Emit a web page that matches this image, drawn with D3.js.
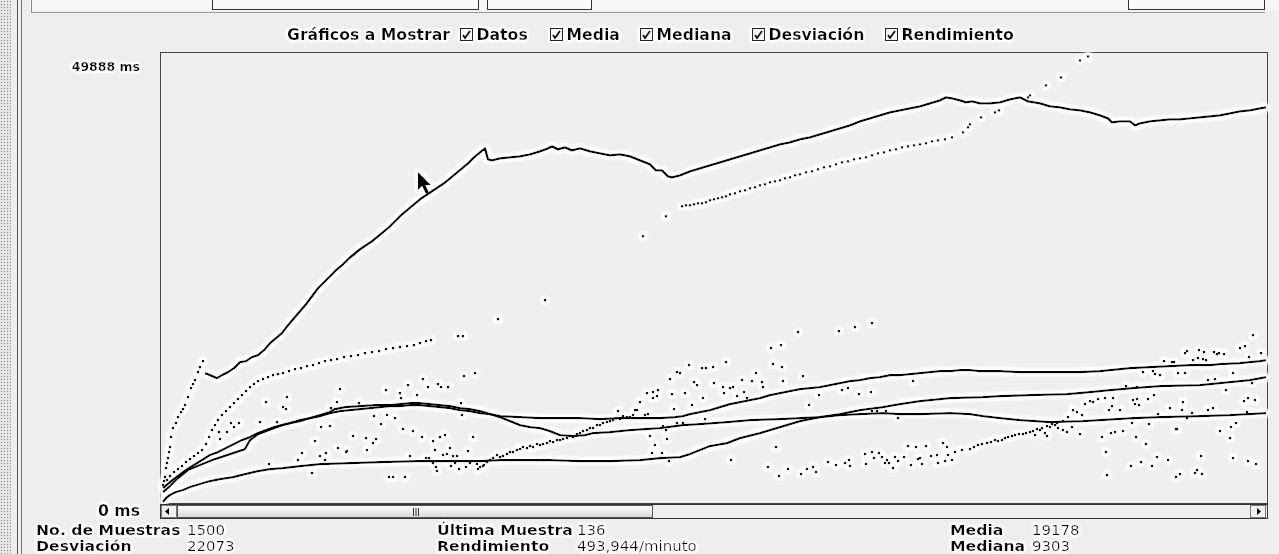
<!DOCTYPE html>
<html><head><meta charset="utf-8">
<script src="https://cdn.jsdelivr.net/npm/d3@7"></script>
<style>
html,body{margin:0;padding:0;background:#eeeeee;}
svg{display:block;font-family:"DejaVu Sans",sans-serif;}
</style></head><body>
<svg id="chart" width="1279" height="554"></svg>
<script>
// ---- axis extremes ----
const yMax = 49888;               // ms, top of the graph
const sampleWindow = 1106;        // samples visible in the viewport
const yTickLabels = ["49888 ms", "0 ms"];

// ---- legend / check boxes ----
const showTitle = "Gráficos a Mostrar";
const seriesNames = ["Datos", "Media", "Mediana", "Desviación", "Rendimiento"];

// ---- summary fields ----
const summaryLeft  = [["No. de Muestras", "1500"], ["Desviación", "22073"]];
const summaryMid   = [["Última Muestra", "136"], ["Rendimiento", "493,944/minuto"]];
const summaryRight = [["Media", "19178"], ["Mediana", "9303"]];

// ---- series: [sample index, value in ms] ----
const rendimiento = [[44,14319],[49,14097],[56,13764],[61,14097],[67,14430],[73,14874],[79,15540],[85,15651],[91,16095],[97,16317],[103,16872],[109,17649],[115,18204],[121,18759],[127,19647],[133,20424],[139,21201],[145,21978],[151,22866],[157,23754],[163,24420],[169,25086],[175,25752],[181,26307],[187,26973],[193,27528],[199,28083],[205,28527],[211,28971],[217,29526],[223,30081],[229,30636],[235,31302],[241,31968],[247,32523],[253,33078],[259,33633],[265,34077],[271,34521],[277,34965],[283,35409],[289,35964],[295,36519],[301,37074],[307,37629],[313,38295],[319,38850],[324,39294],[327,38073],[331,37962],[339,38184],[349,38295],[359,38406],[369,38628],[379,38961],[387,39294],[391,39516],[397,39183],[404,39405],[411,39072],[419,39294],[429,38961],[439,38739],[449,38517],[459,38628],[469,38406],[479,37962],[489,37518],[495,36852],[501,36852],[507,36186],[511,36075],[519,36297],[529,36741],[539,37074],[549,37407],[559,37740],[569,38073],[579,38406],[589,38739],[599,39072],[609,39405],[619,39738],[629,39960],[639,40293],[649,40515],[659,40848],[669,41181],[679,41514],[689,41847],[699,42291],[709,42624],[719,42957],[729,43290],[739,43512],[749,43734],[759,43956],[769,44289],[779,44622],[785,44955],[791,44844],[799,44622],[805,44400],[811,44511],[819,44289],[829,44289],[839,44400],[849,44733],[859,44955],[867,44511],[879,44289],[889,43956],[899,43845],[909,43623],[919,43512],[929,43290],[939,42957],[947,42624],[951,42180],[959,42291],[969,42291],[974,41847],[979,42069],[989,42291],[999,42402],[1009,42513],[1019,42513],[1029,42624],[1039,42735],[1049,42846],[1059,42957],[1069,43179],[1079,43401],[1089,43512],[1099,43734],[1105,43845]];

const desviacion = [[2,1554],[9,2220],[17,2886],[25,3552],[33,4107],[41,4662],[49,5217],[57,5550],[65,5994],[73,6438],[81,6882],[89,7215],[97,7659],[105,7992],[113,8325],[121,8547],[129,8769],[139,9102],[149,9324],[159,9546],[169,9879],[179,10101],[189,10212],[199,10323],[209,10434],[219,10545],[229,10656],[239,10656],[249,10767],[259,10767],[269,10656],[279,10545],[289,10434],[299,10212],[309,10101],[319,9879],[329,9768],[339,9546],[359,9435],[379,9324],[399,9324],[419,9324],[439,9213],[459,9324],[479,9324],[499,9324],[514,9435],[522,9546],[529,9768],[539,9990],[549,10212],[559,10545],[569,10878],[579,11100],[589,11322],[599,11544],[609,11877],[619,12099],[629,12321],[639,12543],[649,12654],[659,12765],[669,12987],[679,13209],[689,13431],[699,13542],[709,13764],[719,13875],[729,14097],[739,14097],[749,14208],[759,14319],[769,14430],[779,14541],[789,14541],[799,14652],[809,14652],[819,14541],[839,14541],[859,14430],[879,14430],[899,14430],[919,14430],[939,14541],[949,14652],[959,14763],[969,14874],[989,14985],[1009,15096],[1029,15207],[1049,15207],[1059,15318],[1079,15429],[1089,15540],[1099,15651],[1105,15762]];

const media = [[2,1110],[9,1776],[17,2664],[27,3552],[39,4107],[54,4773],[69,5328],[84,5883],[89,6882],[97,7548],[105,7881],[113,8214],[121,8547],[129,8769],[139,8991],[149,9324],[159,9657],[169,9990],[174,10323],[184,10545],[199,10656],[214,10767],[229,10767],[239,10878],[249,10989],[259,10989],[269,10878],[279,10767],[289,10656],[299,10434],[309,10323],[319,10101],[329,9768],[339,9435],[349,8991],[359,8547],[369,8325],[379,8214],[389,7881],[399,7437],[412,7326],[424,7437],[432,7659],[449,7770],[469,7992],[499,8214],[522,8547],[539,8658],[566,8880],[589,9102],[619,9213],[639,9324],[659,9435],[679,9768],[699,10212],[722,10545],[739,10878],[759,11211],[789,11544],[822,11655],[839,11766],[869,11877],[906,11988],[929,12210],[949,12432],[972,12654],[999,12876],[1039,12987],[1069,13320],[1089,13542],[1105,13875]];

const mediana = [[2,0],[5,444],[9,777],[15,1110],[22,1332],[29,1665],[39,1998],[49,2331],[59,2553],[72,2775],[84,3108],[97,3441],[109,3663],[122,3774],[139,3996],[159,4218],[189,4329],[219,4440],[256,4551],[289,4551],[319,4551],[339,4662],[389,4662],[419,4551],[449,4551],[479,4662],[499,4884],[519,4995],[529,5328],[539,5772],[549,6216],[566,6549],[579,7104],[599,7659],[619,8325],[639,8991],[659,9435],[679,9657],[699,9768],[722,9879],[739,9768],[759,9768],[789,9879],[809,9768],[822,9546],[839,9324],[859,9102],[889,8880],[922,8991],[939,9102],[972,9324],[999,9435],[1039,9546],[1069,9657],[1105,9879]];

// individual samples (response times)
const datos = [
[2,1887],[3,2331],[4,2775],[5,3774],[6,4329],[7,4884],[8,5550],[9,6105],[10,7215],[12,8214],[15,8769],[17,9435],[20,9990],[22,10323],[24,10767],[27,11655],[30,12654],[32,13098],[34,13542],[37,14430],[39,14985],[42,15651],
[6,2442],[9,2886],[13,3330],[17,3663],[21,3996],[25,4440],[29,4773],[33,5106],[37,5439],[41,5772],[45,6438],[48,7215],[51,7992],[54,8547],[57,9102],[61,9657],[65,10101],[69,10545],[73,10989],[77,11433],[81,11877],[85,12321],[89,12765],[93,13098],[97,13431],[102,13653],[107,13875],[112,14097],[117,14208],[122,14319],[128,14541],[134,14763],[140,14874],[146,15096],[152,15207],[158,15429],[164,15651],[170,15762],[176,15873],[183,16095],[190,16206],[197,16317],[204,16539],[211,16650],[218,16761],[225,16983],[232,17094],[239,17205],[246,17316],[253,17427],[259,17649],[265,17871],[270,17982],[297,18426],[302,18426],[337,20313],[384,22422],[482,29526],[505,31746],
[521,32856],[525,32967],[529,32967],[533,33078],[537,33189],[541,33189],[545,33300],[549,33522],[553,33633],[557,33744],[561,33855],[565,33966],[569,34188],[574,34299],[579,34521],[584,34632],[589,34854],[594,34965],[599,35187],[604,35298],[609,35520],[614,35631],[619,35742],[624,35964],[629,36075],[634,36297],[639,36408],[645,36630],[651,36741],[657,36963],[663,37185],[669,37296],[675,37518],[681,37740],[687,37851],[693,38073],[699,38184],[705,38295],[711,38517],[717,38739],[723,38850],[729,39072],[735,39183],[741,39405],[747,39516],[753,39627],[759,39738],[765,39849],[771,40071],[777,40182],[784,40293],[791,40515],[802,41070],[807,41625],[809,41958],[820,42735],[834,43290],[838,43512],[867,44955],[869,45177],[885,46287],[900,47175],[919,49062],[927,49506],
[319,3885],[323,4107],[326,4440],[329,4662],[332,4884],[336,5217],[339,4995],[342,5106],[346,5328],[349,5550],[352,5550],[356,5772],[359,5883],[362,6105],[366,5994],[369,6216],[372,6105],[376,6438],[379,6327],[382,6438],[386,6549],[389,6771],[392,6660],[396,6882],[399,6882],[402,6993],[406,7104],[409,7326],[412,7215],[416,7548],[419,7659],[422,7881],[426,7992],[429,8214],[432,8214],[436,8547],[439,8547],[442,8769],[446,8880],[449,8991],[452,9102],[455,9324],[459,9213],[462,9546],[466,9435],[472,9657],[476,10212],[479,11100],[486,12099],[492,12210],[497,12432],
[457,10101],[469,9435],[474,10212],[484,9657],[487,9768],[492,11544],[496,11766],
[509,13653],[511,11988],[516,14430],[519,14319],[513,10323],[524,12099],[528,15207],[531,10767],[533,13320],[536,12987],[541,14874],[545,14874],[542,11544],[544,9213],[552,14985],[553,13209],[562,12765],[563,12099],[565,15540],[569,12654],[572,12765],[576,11766],[581,13542],[583,12210],[586,11544],[591,13431],[595,14319],[601,13320],[602,12765],[610,17094],[612,15318],[620,17427],[621,14985],[622,13431],[637,18870],[642,13986],[648,10767],[658,11877],[678,18981],[694,19425],[711,19869],[681,12432],[687,12654],[698,11988],[710,12210],[752,13431],[711,10101],[716,10101],[725,10101],[737,9324],[516,8769],[522,8769],
[489,7326],[494,6327],[491,5439],[501,5439],[499,4884],[505,7992],[506,6993],[508,4551],[502,8436],[570,4662],[607,3885],[615,6105],[618,2886],[627,3663],[640,3108],[646,3663],[652,3885],[655,3330],[667,4440],[675,4107],[684,4329],[688,4662],[689,3996],[704,5328],[705,4218],[711,5550],[713,4884],[718,5439],[721,4995],[724,4329],[726,4662],[728,4329],[732,3774],[734,4995],[737,4551],[743,4995],[750,4107],[747,6216],[755,6105],[757,4773],[765,6216],[770,5106],[776,5217],[777,4329],[782,6549],[786,6105],[787,5217],[759,4884],[761,4218],[784,4551],
[791,4662],[794,5550],[801,5772],[809,5883],[813,6105],[817,6327],[821,6438],[826,6549],[830,6660],[834,6882],[837,6771],[841,6882],[844,7104],[847,7215],[851,7326],[854,7437],[858,7548],[862,7548],[865,7659],[869,7770],[872,7881],[876,8103],[879,7992],[881,8214],[886,8436],[889,8325],[891,8658],[894,8547],[896,8769],[902,8991],[907,9435],[912,10212],[916,9990],[921,9657],[897,8214],[902,7992],[906,7770],[911,8325],[919,7548],[874,7437],[884,7659],[886,7326],
[924,10878],[929,11211],[932,11100],[937,11433],[944,11544],[952,11544],[948,10212],[951,10656],[959,10212],[972,11322],[976,11433],[974,10878],[978,10767],[987,11433],[993,11877],[997,9768],[1009,10434],[1022,11100],[1021,10212],[1031,9879],[1047,10212],[1052,10434],[1083,11211],[1087,11544],[1094,11322],[1086,9990],[1075,8769],[1070,8325],[1059,7881],[1069,7104],[972,9324],[971,8769],[988,8658],[1026,9324],[1015,8103],[941,7215],[950,7659],[954,7770],[962,7881],
[945,5550],[946,2997],[970,3996],[975,7215],[980,4440],[985,6438],[991,3996],[996,4995],[1007,4662],[1016,8103],[1015,2775],[1019,3108],[1034,3219],[1036,3552],[1041,3108],[1040,5106],[1072,4884],[1087,4551],[1095,4218],
[1092,18537],[1079,17094],[1084,17316],[1024,16539],[1026,16761],[1038,16872],[1043,16650],[1032,15762],[1037,15984],[1042,15873],[1045,15762],[1053,16650],[1056,16428],[1058,16539],[1063,16428],[1088,16095],[1100,16539],[1003,15651],[1011,15540],[1013,15540],[982,14430],[992,14541],[994,14208],[999,14097],[1017,14319],[1024,14319],[1072,14319],[1047,13542],[1054,13653],[1065,12432],[1091,13209],[965,12876],[976,12765],
[58,7770],[59,6993],[66,7770],[70,8769],[73,8325],[78,8769],[99,8880],[105,11100],[116,8880],[122,10545],[125,10323],[126,11655],[141,5439],[137,4662],[154,6771],[160,8325],[169,8436],[165,5439],[159,5106],[164,4662],[177,5994],[186,5661],[192,7326],[151,3219],[108,4218],[170,10434],[176,11100],[179,12543],[198,10989],[225,12432],[239,12099],[240,11544],[247,12987],[256,11877],[262,13653],[267,12765],[277,13098],[280,12765],[287,12765],[303,13986],[314,14319],[300,10989],[241,10767],
[213,9546],[226,9657],[234,9324],[220,8658],[242,8103],[252,7881],[261,7215],[272,6771],[279,7215],[284,7437],[205,7104],[215,6993],[212,6549],[206,5772],[185,5550],[249,5106],[265,4884],[268,4884],[274,5772],[289,5994],[282,5217],[286,5328],[292,5106],[296,5106],[307,5661],[312,7215],[301,9657],[272,4329],[275,3885],[276,3441],[290,3996],[294,4329],[298,3663],[305,3885],[309,4329],[316,4218],[317,3663],[322,3996],[228,2775],[232,2775],[244,2775],[383,4662]
];

const svg = d3.select("#chart");
const W = 1279, H = 554;
const plot = {left: 161, top: 53, right: 1267, bottom: 502};

const x = d3.scaleLinear().domain([0, sampleWindow]).range([plot.left, plot.right]);
const y = d3.scaleLinear().domain([0, yMax]).range([plot.bottom, plot.top]);

// ---- defs: halo, patterns, gradients ----
const defs = svg.append("defs");
function haloFilter(id, radius, blur) {
  const f = defs.append("filter").attr("id", id)
    .attr("filterUnits", "userSpaceOnUse").attr("x", 0).attr("y", 0).attr("width", W).attr("height", H);
  f.append("feMorphology").attr("in", "SourceAlpha").attr("operator", "dilate").attr("radius", radius).attr("result", "d");
  f.append("feGaussianBlur").attr("in", "d").attr("stdDeviation", blur).attr("result", "b");
  f.append("feFlood").attr("flood-color", "#ffffff").attr("result", "w");
  f.append("feComposite").attr("in", "w").attr("in2", "b").attr("operator", "in").attr("result", "h");
  const m = f.append("feMerge");
  m.append("feMergeNode").attr("in", "h");
  m.append("feMergeNode").attr("in", "h");
  m.append("feMergeNode").attr("in", "h");
  m.append("feMergeNode").attr("in", "SourceGraphic");
}
haloFilter("halo", 1.5, 1.7);
haloFilter("haloText", 1.2, 1.4);

const pat = defs.append("pattern").attr("id", "dots").attr("width", 3).attr("height", 3)
  .attr("patternUnits", "userSpaceOnUse");
pat.append("rect").attr("width", 3).attr("height", 3).attr("fill", "#e4e4e4");
pat.append("rect").attr("x", 1).attr("y", 1).attr("width", 1).attr("height", 1).attr("fill", "#8a8a8a");

const thumbGrad = defs.append("linearGradient").attr("id", "thumb").attr("x1", 0).attr("y1", 0).attr("x2", 0).attr("y2", 1);
thumbGrad.append("stop").attr("offset", "0%").attr("stop-color", "#ffffff");
thumbGrad.append("stop").attr("offset", "100%").attr("stop-color", "#d8d8d8");

defs.append("clipPath").attr("id", "plotClip").append("rect")
  .attr("x", plot.left).attr("y", plot.top).attr("width", plot.right - plot.left).attr("height", plot.bottom - plot.top + 1);

// ---- window background ----
svg.append("rect").attr("width", W).attr("height", H).attr("fill", "#eeeeee");
svg.append("rect").attr("x", 0).attr("y", 0).attr("width", 11).attr("height", H).attr("fill", "url(#dots)");
svg.append("line").attr("x1", 17.5).attr("x2", 17.5).attr("y1", 0).attr("y2", H).attr("stroke", "#555");
svg.append("line").attr("x1", 21.5).attr("x2", 21.5).attr("y1", 0).attr("y2", H).attr("stroke", "#777");

// upper panel edge and text fields
const topPanel = svg.append("g");
topPanel.append("rect").attr("x", 30).attr("y", 0).attr("width", 1249).attr("height", 11).attr("fill", "#f6f6f6");
topPanel.append("line").attr("x1", 31.5).attr("x2", 31.5).attr("y1", 0).attr("y2", 12).attr("stroke", "#888");
topPanel.append("line").attr("x1", 31).attr("x2", 1265).attr("y1", 12.5).attr("y2", 12.5).attr("stroke", "#999");
[[212, 478], [487, 591], [1128, 1264]].forEach(([a, b]) => {
  topPanel.append("rect").attr("x", a + 0.5).attr("y", -2).attr("width", b - a).attr("height", 11.5)
    .attr("fill", "#fafafa").attr("stroke", "#333");
});

// ---- plot frame ----
svg.append("rect").attr("x", plot.left - 0.5).attr("y", plot.top - 0.5)
  .attr("width", plot.right - plot.left + 1).attr("height", plot.bottom - plot.top + 2)
  .attr("fill", "#efefef").attr("stroke", "#444");

// ---- marks ----
const marks = svg.append("g").attr("filter", "url(#halo)");
const inner = marks.append("g").attr("clip-path", "url(#plotClip)");
const line = d3.line().x(d => x(d[0])).y(d => y(d[1]));
[rendimiento, desviacion, media, mediana].forEach(s => {
  inner.append("path").datum(s).attr("d", line)
    .attr("fill", "none").attr("stroke", "#000").attr("stroke-width", 2.3).attr("stroke-linejoin", "round");
});
inner.selectAll("rect.dato").data(datos).join("rect").attr("class", "dato")
  .attr("x", d => x(d[0]) - 1.2).attr("y", d => y(d[1]) - 1.2)
  .attr("width", 2.4).attr("height", 2.4).attr("fill", "#111");

// mouse pointer resting over the chart
marks.append("path").attr("d", "M418,172 L418,190 L422,186 L426,194 L429,192.5 L425.5,185 L431,185 Z")
  .attr("fill", "#000");

// ---- y labels ----
const txt = svg.append("g").attr("filter", "url(#haloText)").attr("fill", "#000");
const boldSize = 15.7;
txt.append("text").attr("x", 140).attr("y", y(yMax) + 18).attr("text-anchor", "end")
  .attr("font-weight", "bold").attr("font-size", 12.5).text(yTickLabels[0]);
txt.append("text").attr("x", 140).attr("y", 516).attr("text-anchor", "end")
  .attr("font-weight", "bold").attr("font-size", boldSize).text(yTickLabels[1]);

// ---- check box row ----
txt.append("text").attr("x", 287).attr("y", 40).attr("font-weight", "bold").attr("font-size", boldSize).text(showTitle);
const boxX = [460, 550, 640, 752, 885];
seriesNames.forEach((n, i) => {
  const g = txt.append("g").attr("transform", `translate(${boxX[i]},28)`);
  g.append("rect").attr("x", 0.5).attr("y", 0.5).attr("width", 12).attr("height", 12)
    .attr("fill", "#f7f7f7").attr("stroke", "#222");
  g.append("path").attr("d", "M3,7 L5,10 L10,3").attr("fill", "none").attr("stroke", "#000").attr("stroke-width", 1.6);
  g.append("text").attr("x", 16.5).attr("y", 12).attr("font-weight", "bold").attr("font-size", boldSize).text(n);
});

// ---- scrollbar ----
const sb = svg.append("g");
const sbY = 504, sbH = 14;
sb.append("rect").attr("x", plot.left - 0.5).attr("y", sbY + 0.5).attr("width", plot.right - plot.left + 1).attr("height", sbH)
  .attr("fill", "#eeeeee").attr("stroke", "#333");
sb.append("rect").attr("x", plot.left + 0.5).attr("y", sbY + 1.5).attr("width", 15).attr("height", sbH - 2)
  .attr("fill", "#f2f2f2").attr("stroke", "#777");
sb.append("path").attr("d", `M165,${sbY + 7.5} L169,${sbY + 4} L169,${sbY + 11} Z`).attr("fill", "#000");
sb.append("rect").attr("x", 177.5).attr("y", sbY + 1.5).attr("width", 475).attr("height", sbH - 2)
  .attr("fill", "url(#thumb)").attr("stroke", "#555");
[413, 415.5, 418].forEach(gx => sb.append("line").attr("x1", gx + 0.5).attr("x2", gx + 0.5)
  .attr("y1", sbY + 4).attr("y2", sbY + 12).attr("stroke", "#333"));
sb.append("rect").attr("x", 1250.5).attr("y", sbY + 1.5).attr("width", 15).attr("height", sbH - 2)
  .attr("fill", "#f2f2f2").attr("stroke", "#777");
sb.append("path").attr("d", `M1261,${sbY + 7.5} L1257,${sbY + 4} L1257,${sbY + 11} Z`).attr("fill", "#000");

// ---- summary fields (two tightly stacked rows, slightly condensed type) ----
const rowSize = 14;
function field(lx, vx, by, label, value) {
  txt.append("text").attr("transform", `translate(${lx},${by}) scale(1.12,1)`)
    .attr("font-weight", "bold").attr("font-size", rowSize).text(label);
  txt.append("text").attr("transform", `translate(${vx},${by}) scale(1.07,1)`)
    .attr("font-size", rowSize).text(value);
}
summaryLeft.forEach((f, i) => field(36, 187, 534.5 + i * 16.5, f[0], f[1]));
summaryMid.forEach((f, i) => field(437, 577, 534.5 + i * 16.5, f[0], f[1]));
summaryRight.forEach((f, i) => field(950, 1032, 534.5 + i * 16.5, f[0], f[1]));
</script>
</body></html>
